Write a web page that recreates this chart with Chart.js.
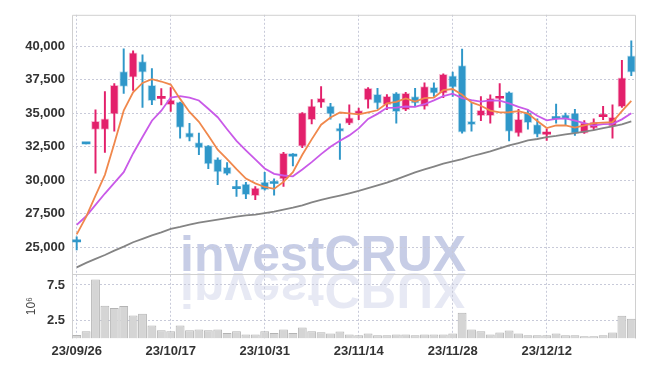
<!DOCTYPE html>
<html>
<head>
<meta charset="utf-8">
<script src="https://cdn.jsdelivr.net/npm/chart.js@4.4.1/dist/chart.umd.min.js"></script>
<style>
  html, body { margin: 0; padding: 0; background: #fff; }
</style>
</head>
<body>
<canvas id="stockChart" width="645" height="366"></canvas>
<script>
// Trading days (yy/mm/dd)
const dates = [
  '23/09/26','23/09/27','23/10/04','23/10/05','23/10/06','23/10/10','23/10/11','23/10/12','23/10/13','23/10/16',
  '23/10/17','23/10/18','23/10/19','23/10/20','23/10/23','23/10/24','23/10/25','23/10/26','23/10/27','23/10/30',
  '23/10/31','23/11/01','23/11/02','23/11/03','23/11/06','23/11/07','23/11/08','23/11/09','23/11/10','23/11/13',
  '23/11/14','23/11/15','23/11/16','23/11/17','23/11/20','23/11/21','23/11/22','23/11/23','23/11/24','23/11/27',
  '23/11/28','23/11/29','23/11/30','23/12/01','23/12/04','23/12/05','23/12/06','23/12/07','23/12/08','23/12/11',
  '23/12/12','23/12/13','23/12/14','23/12/15','23/12/18','23/12/19','23/12/20','23/12/21','23/12/22','23/12/26'
];

// OHLC
const opens = [25420, 32760, 33800, 33790, 34950, 38130, 37710, 38870, 37090, 36120,
  35640, 35840, 33550, 32810, 32590, 31550, 30960, 29400, 29700, 28840,
  29850, 29850, 30100, 31850, 32540, 34530, 35790, 35540, 33890, 34240,
  34950, 36010, 36430, 35640, 36500, 35270, 36260, 35520, 36950, 36500,
  37810, 38570, 34410, 34830, 34830, 36130, 36580, 33520, 35050, 34160,
  33450, 34720, 34880, 35000, 33520, 33890, 34750, 34040, 35490, 39310];
const highs = [25760, 32760, 35270, 36630, 37220, 39830, 39680, 39380, 38350, 36850,
  36920, 35840, 34260, 33520, 32590, 31680, 31310, 29980, 29830, 29530,
  30590, 30100, 32090, 31990, 35050, 36030, 37000, 35740, 34210, 35640,
  35390, 36920, 36870, 36400, 36550, 36580, 36870, 37290, 37290, 37960,
  38080, 39800, 35760, 36260, 36380, 37220, 36600, 35300, 35250, 34580,
  33840, 35690, 35020, 35300, 34460, 34580, 35520, 35640, 38970, 40420];
const lows = [24790, 32720, 30520, 32070, 33670, 36480, 36720, 35440, 35640, 35620,
  35150, 33150, 32930, 31900, 30860, 29660, 30390, 28790, 28620, 28550,
  29250, 28870, 29530, 31060, 32440, 34210, 35440, 34560, 31550, 34160,
  34530, 35390, 35350, 35270, 34260, 35200, 35570, 35320, 36260, 36180,
  36260, 33520, 33670, 34460, 34260, 35440, 32930, 33300, 33820, 33230,
  32980, 34260, 34140, 33350, 33500, 33770, 34530, 33150, 35450, 37810];
const closes = [25380, 32720, 34400, 34580, 37090, 37020, 39530, 38080, 35940, 36200,
  35990, 33940, 33200, 32410, 31210, 30620, 30470, 29370, 28920, 29410,
  29290, 29750, 32000, 31800, 35030, 35540, 36130, 34950, 33650, 34660,
  35200, 36870, 35760, 36280, 35120, 36500, 35760, 37000, 36500, 37910,
  36950, 33600, 34160, 35220, 36130, 36230, 33650, 34560, 34310, 33420,
  33550, 34600, 34560, 33500, 34290, 34340, 34850, 34700, 37660, 38080];

// Moving averages
const ma5 = [25950, 27250, 28850, 30400, 32750, 35200, 36570, 37270, 37550, 37380,
  37150, 36080, 35100, 34370, 33350, 32280, 31580, 30820, 30120, 29760,
  29490, 29350, 29870, 30600, 31900, 33050, 34150, 34690, 35060, 34990,
  34920, 35070, 35230, 35750, 35850, 36110, 35880, 36130, 36180, 36730,
  36820, 36390, 35820, 35570, 35210, 35070, 35080, 35160, 34980, 34430,
  33900, 34090, 34090, 33930, 34100, 34260, 34310, 34340, 35170, 35930];
const ma10 = [26650, 27300, 28150, 29000, 29800, 30600, 32000, 33230, 34450, 35200,
  36180, 36290, 36180, 35960, 35340, 34710, 33810, 32940, 32230, 31550,
  30880, 30470, 30350, 30290, 30800, 31350, 31950, 32500, 32950, 33350,
  33870, 34580, 34960, 35410, 35420, 35510, 35480, 35680, 35970, 36290,
  36470, 36140, 35980, 35870, 35970, 35950, 35740, 35490, 35270, 34820,
  34480, 34580, 34620, 34450, 34270, 34080, 34200, 34210, 34550, 35010];
const maLong = [23480, 23815, 24110, 24400, 24735, 25030, 25360, 25615, 25870, 26090,
  26350, 26500, 26680, 26830, 26940, 27050, 27160, 27270, 27360, 27430,
  27530, 27640, 27790, 27940, 28120, 28340, 28520, 28690, 28850, 29020,
  29200, 29400, 29610, 29810, 30060, 30320, 30580, 30800, 31020, 31240,
  31400, 31570, 31790, 31970, 32160, 32380, 32600, 32780, 32970, 33080,
  33220, 33310, 33420, 33520, 33630, 33740, 33890, 34030, 34180, 34400];

// Volume (x 10^6)
const volumes = [0.48, 1.03, 8.27, 4.6, 4.28, 4.56, 3.23, 3.46, 1.81, 1.17,
  1.03, 1.81, 1.17, 1.26, 1.17, 1.26, 0.76, 1.03, 0.57, 0.57,
  1.03, 0.76, 1.26, 0.76, 1.54, 1.03, 0.89, 0.71, 0.99, 0.57,
  0.44, 0.71, 0.44, 0.44, 0.57, 0.57, 0.44, 0.57, 0.57, 0.57,
  0.71, 3.6, 1.26, 1.03, 0.57, 0.85, 1.13, 0.71, 0.44, 0.44,
  0.44, 0.71, 0.44, 0.44, 0.3, 0.3, 0.44, 0.85, 3.19, 2.77];

// Tick values
const priceTicks = [25000, 27500, 30000, 32500, 35000, 37500, 40000];
const volumeTicks = [2.5, 5.0, 7.5];

// Colors
const UP = '#e3206b';
const DOWN = '#2f97c9';
const UP_TINT = 'rgba(227,32,107,0.3)';
const DOWN_TINT = 'rgba(47,151,201,0.3)';
const GRID = '#c8cad9';
const FONT = '"Liberation Sans", Arial, sans-serif';

const isUp = (i) => closes[i] > opens[i];
const isFlat = (i) => Math.abs(closes[i] - opens[i]) < 150;

// Watermark behind the grid
const watermark = {
  id: 'watermark',
  beforeDraw(chart) {
    const ctx = chart.ctx;
    ctx.save();
    ctx.font = 'bold 50px ' + FONT;
    ctx.fillStyle = 'rgba(165,174,214,0.62)';
    ctx.fillText('investCRUX', 180, 271);
    // reflection
    ctx.translate(0, 544);
    ctx.scale(1, -1);
    ctx.fillStyle = 'rgba(165,174,214,0.27)';
    ctx.fillText('investCRUX', 180, 271);
    ctx.restore();
  }
};

// Panel frames
const frames = {
  id: 'frames',
  beforeDatasetsDraw(chart) {
    const ctx = chart.ctx;
    const a = chart.chartArea;
    const sep = chart.scales.y.bottom;
    ctx.save();
    ctx.strokeStyle = '#d0d0d0';
    ctx.lineWidth = 1;
    ctx.beginPath();
    ctx.moveTo(a.left + 0.5, a.bottom);
    ctx.lineTo(a.left + 0.5, a.top + 0.5);
    ctx.lineTo(a.right - 0.5, a.top + 0.5);
    ctx.lineTo(a.right - 0.5, a.bottom);
    ctx.moveTo(a.left, Math.round(sep) + 0.5);
    ctx.lineTo(a.right, Math.round(sep) + 0.5);
    ctx.stroke();
    ctx.restore();
  }
};

const tickFont = { family: FONT, size: 13, weight: 'bold' };

new Chart(document.getElementById('stockChart'), {
  type: 'bar',
  data: {
    labels: dates,
    datasets: [
      { type: 'line', data: ma5, borderColor: '#f0884c', borderWidth: 1.8, pointRadius: 0, tension: 0, yAxisID: 'y', order: 0 },
      { type: 'line', data: ma10, borderColor: '#c95ae8', borderWidth: 1.8, pointRadius: 0, tension: 0, yAxisID: 'y', order: 0 },
      { type: 'line', data: maLong, borderColor: '#848484', borderWidth: 1.8, pointRadius: 0, tension: 0, yAxisID: 'y', order: 0 },
      {
        data: opens.map((o, i) => [o, closes[i]]),
        yAxisID: 'y', grouped: false, barThickness: 8, minBarLength: 2,
        backgroundColor: (c) => isUp(c.dataIndex) ? UP : DOWN,
        borderColor: (c) => isUp(c.dataIndex) ? UP_TINT : DOWN_TINT,
        borderWidth: (c) => isFlat(c.dataIndex) ? 0 : 1,
        borderSkipped: false,
        order: 1
      },
      {
        data: lows.map((l, i) => [l, highs[i]]),
        yAxisID: 'y', grouped: false, barThickness: 1.3, minBarLength: 1,
        backgroundColor: (c) => isUp(c.dataIndex) ? UP : DOWN,
        order: 2
      },
      {
        data: volumes,
        yAxisID: 'yv', grouped: false, barPercentage: 0.94, categoryPercentage: 1,
        backgroundColor: '#d5d5d5', borderColor: '#b4b4b4', borderWidth: 1,
        borderSkipped: 'bottom',
        order: 3
      }
    ]
  },
  options: {
    responsive: false,
    animation: false,
    layout: { padding: { top: 9, right: 9, left: 0, bottom: 0 } },
    plugins: { legend: { display: false }, tooltip: { enabled: false } },
    scales: {
      x: {
        offset: true,
        grid: { offset: false, color: GRID, drawTicks: false },
        border: { display: false, dash: [2, 2] },
        ticks: { font: tickFont, color: '#333', maxRotation: 0, autoSkip: false, padding: 5 },
        afterBuildTicks: (scale) => { scale.ticks = scale.ticks.filter(t => t.value % 10 === 0); },
        afterFit: (scale) => { scale.height = 27.5; }
      },
      yv: {
        position: 'left', stack: 'panels', stackWeight: 1,
        min: 0, max: 9.07,
        grid: { color: GRID, drawTicks: false },
        border: { display: false, dash: [2, 2] },
        ticks: { font: tickFont, color: '#333', padding: 7, callback: (v) => v.toFixed(1) },
        title: { display: true, text: '10⁶', font: { family: FONT, size: 12 }, color: '#444', padding: { top: 24, bottom: 0 } },
        afterBuildTicks: (scale) => { scale.ticks = volumeTicks.map(v => ({ value: v })); },
        afterFit: (scale) => { scale.width = 72; }
      },
      y: {
        position: 'left', stack: 'panels', stackWeight: 4,
        min: 23000, max: 42370,
        grid: { color: GRID, drawTicks: false },
        border: { display: false, dash: [2, 2] },
        ticks: { font: tickFont, color: '#333', padding: 7, callback: (v) => v.toLocaleString('en-US') },
        afterBuildTicks: (scale) => { scale.ticks = priceTicks.map(v => ({ value: v })); },
        afterFit: (scale) => { scale.width = 72; }
      }
    }
  },
  plugins: [watermark, frames]
});
</script>
</body>
</html>
